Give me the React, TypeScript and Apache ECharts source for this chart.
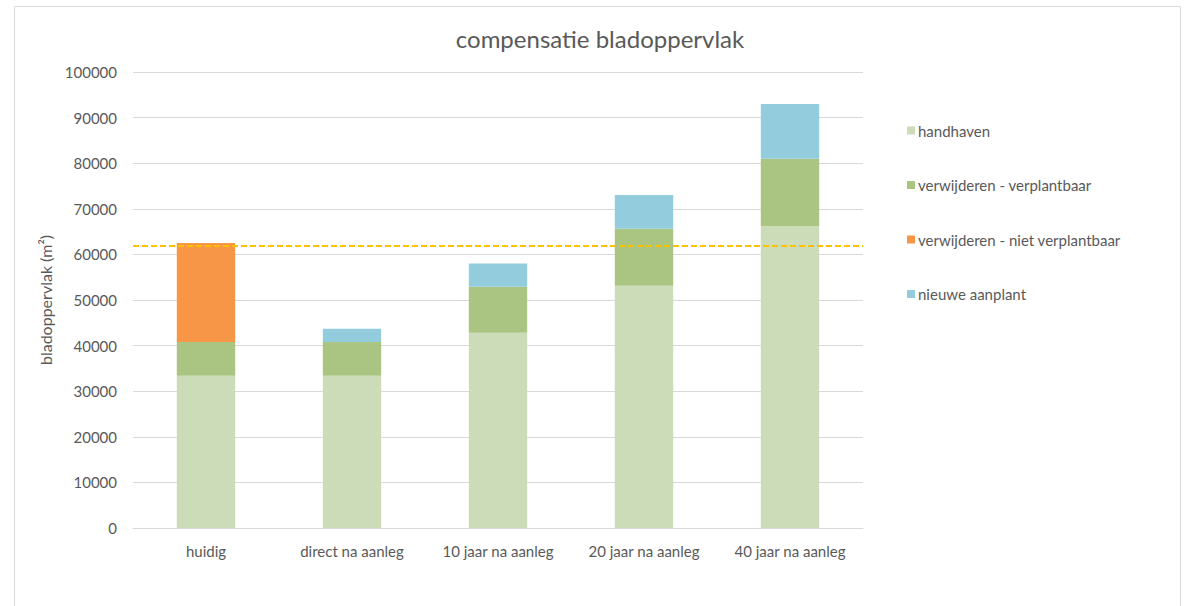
import React, { useEffect, useRef } from "react";
import * as echarts from "echarts";

const categories = ["huidig", "direct na aanleg", "10 jaar na aanleg", "20 jaar na aanleg", "40 jaar na aanleg"];
const handhaven = [33400, 33400, 42800, 53100, 66200];
const verplantbaar = [7400, 7400, 10100, 12500, 14800];
const nietVerplantbaar = [21700, 0, 0, 0, 0];
const nieuweAanplant = [0, 2900, 5100, 7400, 12000];
const referentie = 62000;
const yTicks = { min: 0, max: 100000, interval: 10000 };

const FONT = "Lato, 'Open Sans', sans-serif";
const TXT = "#595959";
const FS = 15;

export default function App() {
  const ref = useRef<HTMLDivElement>(null);
  useEffect(() => {
    if (!ref.current) return;
    const chart = echarts.init(ref.current, undefined, { renderer: "svg" });
    const mk = (name: string, data: number[], color: string) => ({
      name,
      type: "bar",
      stack: "s",
      data,
      barWidth: "40%",
      itemStyle: { color },
      emphasis: { disabled: true },
    });
    chart.setOption({
      animation: false,
      backgroundColor: "#ffffff",
      textStyle: { fontFamily: FONT },
      title: {
        text: "compensatie bladoppervlak",
        left: 595,
        top: 21,
        textAlign: "center",
        textStyle: { fontFamily: FONT, fontSize: 24, fontWeight: "normal", color: TXT },
      },
      graphic: [
        {
          type: "rect",
          shape: { x: 14.5, y: 6.5, width: 1166, height: 620 },
          style: { fill: "none", stroke: "#D9D9D9", lineWidth: 1 },
          silent: true,
        },
      ],
      legend: {
        orient: "vertical",
        left: 902,
        top: 118,
        itemWidth: 8,
        itemHeight: 8,
        itemGap: 39.5,
        icon: "rect",
        textStyle: { fontFamily: FONT, fontSize: FS, color: TXT, padding: [0, 0, 0, -2] },
        data: ["handhaven", "verwijderen - verplantbaar", "verwijderen - niet verplantbaar", "nieuwe aanplant"],
      },
      grid: { left: 133, right: 325, top: 72, bottom: 78, containLabel: false },
      xAxis: {
        type: "category",
        data: categories,
        axisLine: { lineStyle: { color: "#D9D9D9" } },
        axisTick: { show: false },
        axisLabel: { color: TXT, fontFamily: FONT, fontSize: FS, margin: 15 },
      },
      yAxis: {
        type: "value",
        min: yTicks.min,
        max: yTicks.max,
        interval: yTicks.interval,
        name: "bladoppervlak (m²)",
        nameLocation: "middle",
        nameGap: 78,
        nameTextStyle: { color: TXT, fontFamily: FONT, fontSize: 16 },
        axisLine: { show: false },
        axisTick: { show: false },
        axisLabel: { color: TXT, fontFamily: FONT, fontSize: FS, margin: 16, formatter: (v: number) => String(v) },
        splitLine: { lineStyle: { color: "#D9D9D9" } },
      },
      series: [
        {
          ...mk("handhaven", handhaven, "#CCDBB8"),
          markLine: {
            silent: true,
            symbol: "none",
            label: { show: false },
            lineStyle: { color: "#FFC000", type: [6, 3], width: 2 },
            data: [{ yAxis: referentie }],
          },
        },
        mk("verwijderen - verplantbaar", verplantbaar, "#AAC581"),
        mk("verwijderen - niet verplantbaar", nietVerplantbaar, "#F79646"),
        mk("nieuwe aanplant", nieuweAanplant, "#93CDDD"),
      ],
    });
    return () => chart.dispose();
  }, []);
  return <div ref={ref} style={{ position: "absolute", left: 0, top: 0, width: 1188, height: 606 }} />;
}
